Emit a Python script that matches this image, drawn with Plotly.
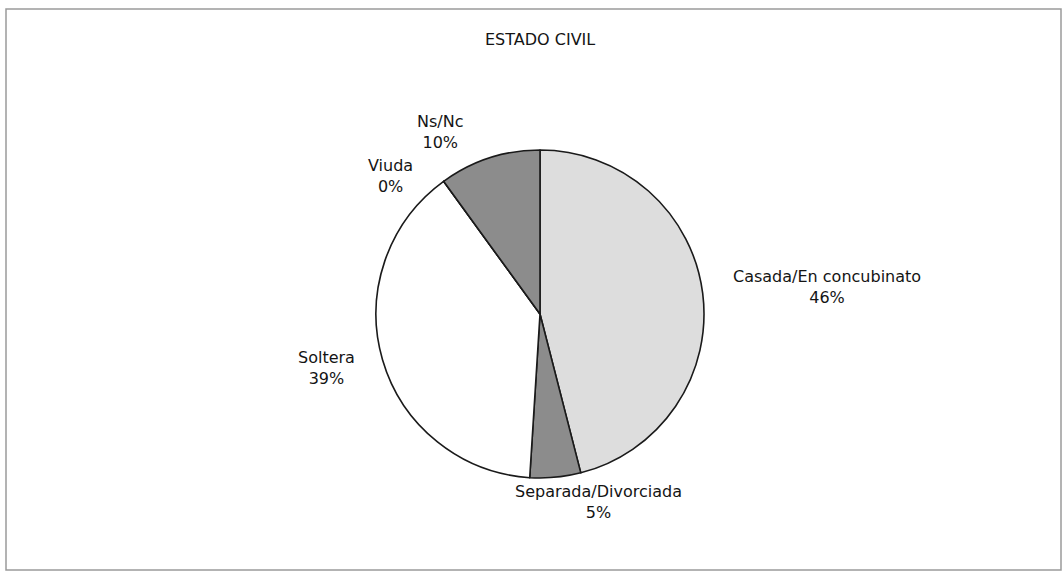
import plotly.graph_objects as go

# Data
categories = ["Casada/En concubinato", "Separada/Divorciada", "Soltera", "Viuda", "Ns/Nc"]
percentages = [46, 5, 39, 0, 10]
title_text = "ESTADO CIVIL"

# Styles
slice_colors = ["#dddddd", "#8c8c8c", "#ffffff", "#ffffff", "#8c8c8c"]
W, H = 1063, 574
cx, cy, r = 540, 314, 164

# label centre positions in pixels (x, y from top)
label_pos = [(827, 287.5), (598, 501.5), (326, 367.5), (390, 176.5), (440, 132)]

fig = go.Figure()
fig.add_trace(go.Pie(
    labels=categories,
    values=percentages,
    sort=False,
    direction="clockwise",
    rotation=0,
    textinfo="none",
    hoverinfo="label+percent",
    marker=dict(colors=slice_colors, line=dict(color="#1a1a1a", width=1.6)),
    domain=dict(x=[(cx - r) / W, (cx + r) / W], y=[(H - cy - r) / H, (H - cy + r) / H]),
    showlegend=False,
))

annotations = []
for cat, pct, (px, py) in zip(categories, percentages, label_pos):
    annotations.append(dict(
        x=px / W, y=(H - py) / H, xref="paper", yref="paper",
        text=f"{cat}<br>{pct}%", showarrow=False,
        xanchor="center", yanchor="middle", align="center",
        font=dict(family="DejaVu Sans", size=16, color="#141414"),
    ))
annotations.append(dict(
    x=540 / W, y=(H - 40) / H, xref="paper", yref="paper",
    text=title_text, showarrow=False, xanchor="center", yanchor="middle",
    font=dict(family="DejaVu Sans", size=16, color="#141414"),
))

fig.update_layout(
    width=W, height=H,
    margin=dict(l=0, r=0, t=0, b=0),
    paper_bgcolor="white",
    plot_bgcolor="white",
    annotations=annotations,
    shapes=[dict(type="rect", xref="paper", yref="paper",
                 x0=6 / W, x1=1061 / W, y0=(H - 570) / H, y1=(H - 9) / H,
                 line=dict(color="#9a9a9a", width=1.5))],
)

fig.write_html("out.html")
